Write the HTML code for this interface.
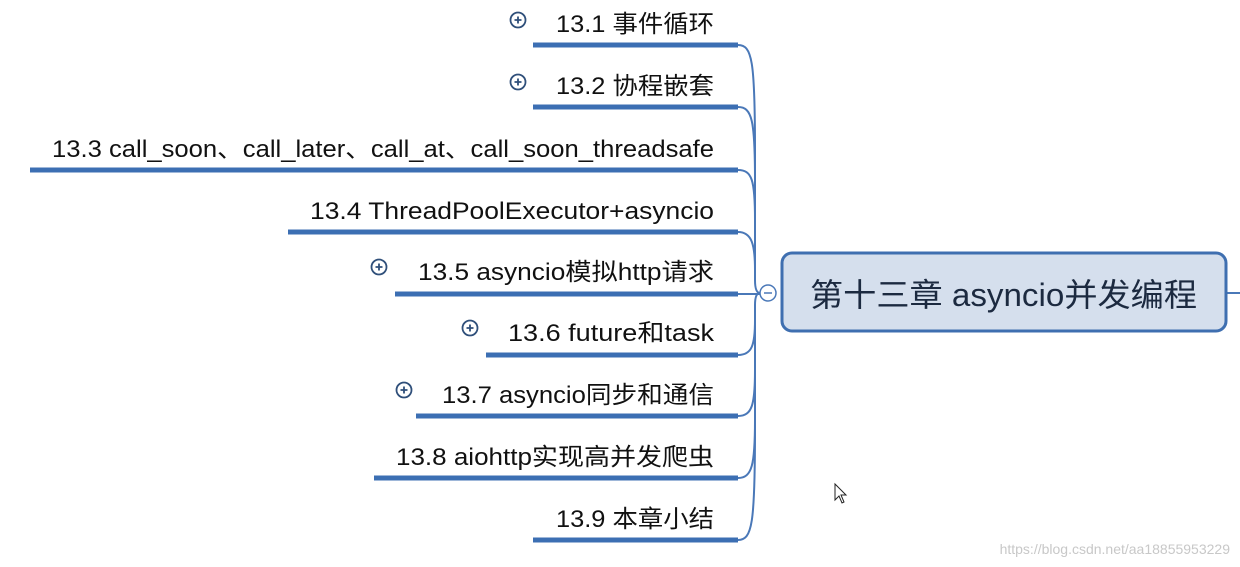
<!DOCTYPE html>
<html><head><meta charset="utf-8"><style>html,body{margin:0;padding:0;background:#fff;}svg{display:block}</style></head>
<body>
<svg width="1240" height="567" viewBox="0 0 1240 567" xmlns="http://www.w3.org/2000/svg">
<g fill="none" stroke="#4a78b8" stroke-width="2">
<path d="M738 45 C752 45 755 60 755 150 L755 280 Q755 293 760 293"/>
<path d="M738 107 C752 107 755 120 755 180"/>
<path d="M738 170 C752 170 755 180 755 220"/>
<path d="M738 232 C752 232 755 245 755 270"/>
<path d="M738 355 C752 355 755 345 755 320"/>
<path d="M738 416 C752 416 755 405 755 370"/>
<path d="M738 478 C752 478 755 465 755 420"/>
<path d="M738 540 C752 540 755 525 755 430 L755 305 Q755 293 760 293"/>
<path d="M738 294 L760 294"/>
<path d="M1227 293 L1240 293"/>
</g>
<g stroke="#3c6fb3" stroke-width="5" stroke-linecap="butt">
<line x1="533" y1="45" x2="738" y2="45"/>
<line x1="533" y1="107" x2="738" y2="107"/>
<line x1="30" y1="170" x2="738" y2="170"/>
<line x1="288" y1="232" x2="738" y2="232"/>
<line x1="395" y1="294" x2="738" y2="294"/>
<line x1="486" y1="355" x2="738" y2="355"/>
<line x1="416" y1="416" x2="738" y2="416"/>
<line x1="374" y1="478" x2="738" y2="478"/>
<line x1="533" y1="540" x2="738" y2="540"/>
</g>
<rect x="782" y="253" width="444" height="78" rx="10" fill="#d5dfed" stroke="#3f6fb0" stroke-width="3"/>
<circle cx="768" cy="293" r="8" fill="#fff" stroke="#4a78b8" stroke-width="1.5"/>
<line x1="764" y1="293" x2="772" y2="293" stroke="#4a78b8" stroke-width="1.5"/>
<g fill="#fff" stroke="#2f4f7a" stroke-width="1.8">
<circle cx="518" cy="20" r="7.5"/><circle cx="518" cy="82" r="7.5"/><circle cx="379" cy="267" r="7.5"/><circle cx="470" cy="328" r="7.5"/><circle cx="404" cy="390" r="7.5"/>
</g>
<g stroke="#2f4f7a" stroke-width="1.8">
<path d="M514.5 20h7M518 16.5v7"/><path d="M514.5 82h7M518 78.5v7"/><path d="M375.5 267h7M379 263.5v7"/><path d="M466.5 328h7M470 324.5v7"/><path d="M400.5 390h7M404 386.5v7"/>
</g>
<g font-family="'Liberation Sans','Noto Sans CJK SC',sans-serif" font-size="24" fill="#111" text-anchor="end" lengthAdjust="spacingAndGlyphs">
<text x="714" y="32" textLength="158" lengthAdjust="spacingAndGlyphs">13.1 事件循环</text>
<text x="714" y="94" textLength="158" lengthAdjust="spacingAndGlyphs">13.2 协程嵌套</text>
<text x="714" y="157" textLength="662" lengthAdjust="spacingAndGlyphs">13.3 call_soon、call_later、call_at、call_soon_threadsafe</text>
<text x="714" y="219" textLength="404" lengthAdjust="spacingAndGlyphs">13.4 ThreadPoolExecutor+asyncio</text>
<text x="714" y="280" textLength="296" lengthAdjust="spacingAndGlyphs">13.5 asyncio模拟http请求</text>
<text x="714" y="341" textLength="206" lengthAdjust="spacingAndGlyphs">13.6 future和task</text>
<text x="714" y="403" textLength="272" lengthAdjust="spacingAndGlyphs">13.7 asyncio同步和通信</text>
<text x="714" y="465" textLength="318" lengthAdjust="spacingAndGlyphs">13.8 aiohttp实现高并发爬虫</text>
<text x="714" y="527" textLength="158" lengthAdjust="spacingAndGlyphs">13.9 本章小结</text>
</g>
<text x="810" y="306" font-family="'Liberation Sans','Noto Sans CJK SC',sans-serif" font-size="32" fill="#1c2a40" textLength="387" lengthAdjust="spacingAndGlyphs">第十三章 asyncio并发编程</text>
<path d="M835 484 L835 500 L839 496 L842 503 L844 502 L841 495 L846 495 Z" fill="#fff" stroke="#222" stroke-width="1"/>
<text x="1230" y="554" text-anchor="end" font-family="'Liberation Sans',sans-serif" font-size="14" fill="#c8c8c8">https://blog.csdn.net/aa18855953229</text>
</svg>
</body></html>
